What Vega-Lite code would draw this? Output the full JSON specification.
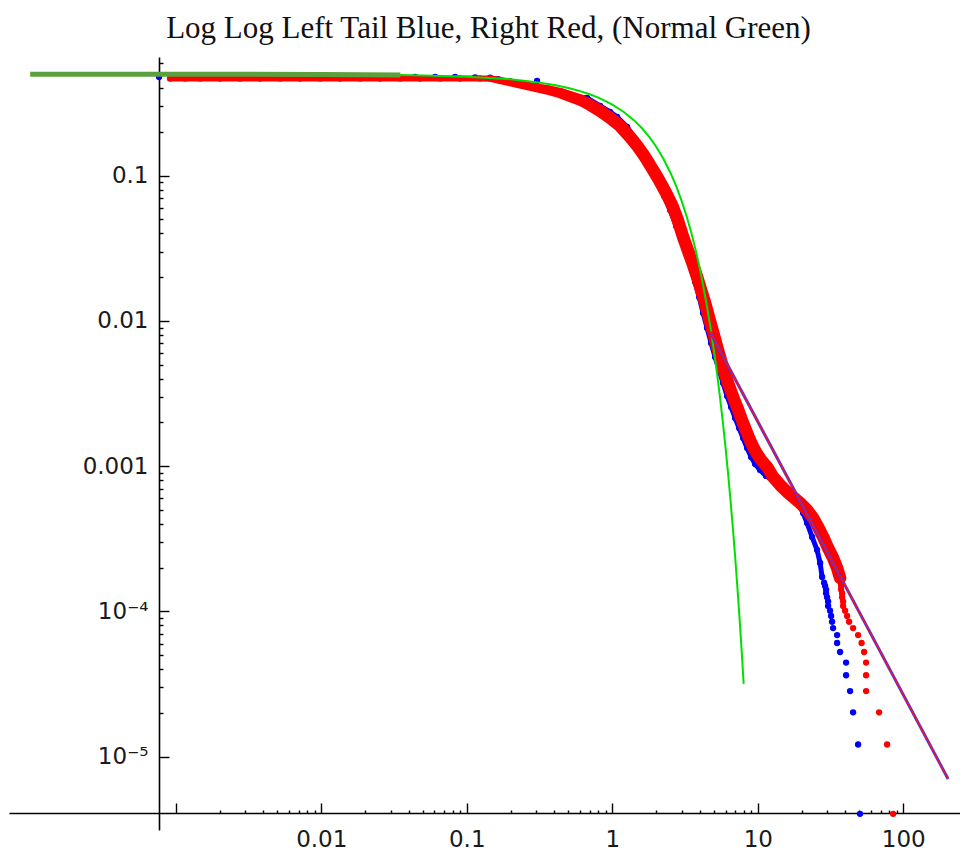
{
  "$schema": "https://vega.github.io/schema/vega-lite/v6.json",
  "width": 951,
  "height": 773,
  "autosize": {"type": "none"},
  "padding": {"left": 9, "top": 57, "right": 0, "bottom": 22},
  "background": "white",
  "title": {
    "text": "Log Log Left Tail Blue, Right Red, (Normal Green)",
    "font": "Liberation Serif",
    "fontSize": 31,
    "fontWeight": "normal",
    "color": "#111111",
    "anchor": "middle",
    "baseline": "alphabetic",
    "offset": 20,
    "dx": 4,
    "dy": 32
  },
  "config": {
    "view": {"stroke": null},
    "axis": {
      "grid": false,
      "title": null,
      "domainColor": "#000000",
      "domainWidth": 1.6,
      "tickColor": "#000000",
      "tickWidth": 1.4,
      "labelFont": "DejaVu Sans",
      "labelFontSize": 23,
      "labelColor": "#1a1a1a",
      "labelOverlap": false,
      "labelFlush": false,
      "labelBound": false
    }
  },
  "datasets": {
    "red": [
      {"x": 0.000914, "y": 0.4668}, {"x": 0.001159, "y": 0.4668}, {"x": 0.001469, "y": 0.4668}, {"x": 0.002016, "y": 0.4668},
      {"x": 0.002766, "y": 0.4668}, {"x": 0.003797, "y": 0.4668}, {"x": 0.00521, "y": 0.4668}, {"x": 0.007151, "y": 0.4668},
      {"x": 0.009813, "y": 0.4668}, {"x": 0.01347, "y": 0.4668}, {"x": 0.01848, "y": 0.4668}, {"x": 0.02536, "y": 0.4668},
      {"x": 0.0348, "y": 0.4668}, {"x": 0.04775, "y": 0.4668}, {"x": 0.06555, "y": 0.4668}, {"x": 0.08995, "y": 0.4668},
      {"x": 0.1234, "y": 0.4668}, {"x": 0.1446, "y": 0.4668}, {"x": 0.1694, "y": 0.4522}, {"x": 0.1985, "y": 0.4382},
      {"x": 0.2325, "y": 0.4245}, {"x": 0.2723, "y": 0.4112}, {"x": 0.319, "y": 0.3983}, {"x": 0.3736, "y": 0.3859},
      {"x": 0.4377, "y": 0.371}, {"x": 0.5129, "y": 0.3509}, {"x": 0.6008, "y": 0.3321}, {"x": 0.7037, "y": 0.3067},
      {"x": 0.8245, "y": 0.2789}, {"x": 0.9658, "y": 0.2495}, {"x": 1.131, "y": 0.2199}, {"x": 1.325, "y": 0.1846},
      {"x": 1.504, "y": 0.1576}, {"x": 1.68, "y": 0.1345}, {"x": 1.907, "y": 0.1094}, {"x": 2.131, "y": 0.0905},
      {"x": 2.343, "y": 0.07601}, {"x": 2.576, "y": 0.06285}, {"x": 2.789, "y": 0.05115}, {"x": 3.066, "y": 0.03784},
      {"x": 3.319, "y": 0.03031}, {"x": 3.593, "y": 0.02428}, {"x": 3.827, "y": 0.02008}, {"x": 4.077, "y": 0.01633},
      {"x": 4.343, "y": 0.01329}, {"x": 4.627, "y": 0.01048}, {"x": 4.929, "y": 0.008393}, {"x": 5.252, "y": 0.006617},
      {"x": 5.594, "y": 0.005301}, {"x": 5.96, "y": 0.004312}, {"x": 6.35, "y": 0.003566}, {"x": 6.765, "y": 0.002995},
      {"x": 7.207, "y": 0.002556}, {"x": 7.678, "y": 0.002147}, {"x": 8.18, "y": 0.001832}, {"x": 8.714, "y": 0.001563},
      {"x": 9.284, "y": 0.001356}, {"x": 9.89, "y": 0.001213}, {"x": 10.54, "y": 0.001103}, {"x": 11.59, "y": 0.0009874},
      {"x": 12.74, "y": 0.0008424}, {"x": 14.23, "y": 0.0007423}, {"x": 15.9, "y": 0.0006645}, {"x": 17.48, "y": 0.0006138},
      {"x": 19.53, "y": 0.0005579}, {"x": 21.82, "y": 0.0004994}, {"x": 23.99, "y": 0.0004399}, {"x": 25.97, "y": 0.0003815},
      {"x": 28.11, "y": 0.0003256}, {"x": 30.42, "y": 0.0002734}, {"x": 32.93, "y": 0.0002333}, {"x": 35.08, "y": 0.0001991},
      {"x": 36.78, "y": 0.0001699}, {"x": 37.37, "y": 0.000157},
      {"x": 37.37, "y": 0.0001495}, {"x": 37.37, "y": 0.0001414}, {"x": 37.97, "y": 0.0001333}, {"x": 37.97, "y": 0.0001252},
      {"x": 38.58, "y": 0.0001172}, {"x": 38.58, "y": 0.0001091}, {"x": 39.81, "y": 0.000101}, {"x": 41.09, "y": 0.00009292},
      {"x": 42.42, "y": 0.00008484}, {"x": 45.19, "y": 0.00007676}, {"x": 48.91, "y": 0.00006868}, {"x": 51.7, "y": 0.0000606},
      {"x": 53.78, "y": 0.00005252}, {"x": 55.51, "y": 0.00004444}, {"x": 55.51, "y": 0.00003636}, {"x": 55.51, "y": 0.00002828},
      {"x": 68.19, "y": 0.0000202}, {"x": 77.41, "y": 0.00001212}, {"x": 85.11, "y": 0.00000404}
    ],
    "blue": [
      {"x": 0.000768, "y": 0.478}, {"x": 0.000989, "y": 0.478}, {"x": 0.001357, "y": 0.478}, {"x": 0.001863, "y": 0.478},
      {"x": 0.002556, "y": 0.478}, {"x": 0.003508, "y": 0.478}, {"x": 0.004815, "y": 0.478}, {"x": 0.006503, "y": 0.478},
      {"x": 0.009066, "y": 0.478}, {"x": 0.01244, "y": 0.478}, {"x": 0.01707, "y": 0.478}, {"x": 0.02343, "y": 0.478},
      {"x": 0.03215, "y": 0.478}, {"x": 0.04412, "y": 0.478}, {"x": 0.06056, "y": 0.478}, {"x": 0.0831, "y": 0.478},
      {"x": 0.114, "y": 0.475}, {"x": 0.1446, "y": 0.472}, {"x": 0.1641, "y": 0.462}, {"x": 0.1985, "y": 0.446},
      {"x": 0.2399, "y": 0.431}, {"x": 0.3042, "y": 0.4487}, {"x": 0.3736, "y": 0.392}, {"x": 0.4519, "y": 0.375},
      {"x": 0.555, "y": 0.35}, {"x": 0.671, "y": 0.3426}, {"x": 0.8245, "y": 0.3019}, {"x": 0.9658, "y": 0.2746},
      {"x": 1.079, "y": 0.2535}, {"x": 1.264, "y": 0.2164}, {"x": 1.457, "y": 0.1761}, {"x": 1.628, "y": 0.1388},
      {"x": 1.819, "y": 0.1094}, {"x": 2.032, "y": 0.0905}, {"x": 2.27, "y": 0.07247}, {"x": 2.496, "y": 0.05806},
      {"x": 2.745, "y": 0.04505}, {"x": 2.971, "y": 0.03608}, {"x": 3.216, "y": 0.0289}, {"x": 3.48, "y": 0.02315},
      {"x": 3.708, "y": 0.01854}, {"x": 3.95, "y": 0.01462}, {"x": 4.208, "y": 0.01134}, {"x": 4.482, "y": 0.008944},
      {"x": 4.775, "y": 0.00705}, {"x": 5.088, "y": 0.005646}, {"x": 5.42, "y": 0.004596}, {"x": 5.774, "y": 0.003739},
      {"x": 6.152, "y": 0.003043}, {"x": 6.554, "y": 0.002556}, {"x": 6.982, "y": 0.002147}, {"x": 7.438, "y": 0.001832},
      {"x": 7.925, "y": 0.001563}, {"x": 8.443, "y": 0.001335}, {"x": 8.995, "y": 0.001157}, {"x": 9.581, "y": 0.001035},
      {"x": 10.37, "y": 0.0009415}, {"x": 11.4, "y": 0.000856}, {"x": 12.74, "y": 0.0007909}, {"x": 14.23, "y": 0.0007423},
      {"x": 15.9, "y": 0.0006966}, {"x": 17.48, "y": 0.000654}, {"x": 18.92, "y": 0.0005579}, {"x": 20.48, "y": 0.0004761},
      {"x": 21.82, "y": 0.0004063}, {"x": 23.61, "y": 0.0003256}, {"x": 25.56, "y": 0.0002649}, {"x": 26.8, "y": 0.0002157},
      {"x": 27.67, "y": 0.0001726},
      {"x": 28.56, "y": 0.0001576}, {"x": 29.01, "y": 0.0001495}, {"x": 29.47, "y": 0.0001414}, {"x": 29.47, "y": 0.0001333},
      {"x": 29.94, "y": 0.0001252}, {"x": 30.42, "y": 0.0001172}, {"x": 30.42, "y": 0.0001091}, {"x": 31.39, "y": 0.000101},
      {"x": 31.9, "y": 0.00009292}, {"x": 32.41, "y": 0.00008484}, {"x": 32.93, "y": 0.00007676}, {"x": 35.08, "y": 0.00006868},
      {"x": 35.08, "y": 0.0000606}, {"x": 36.78, "y": 0.00005252}, {"x": 40.45, "y": 0.00004444}, {"x": 40.45, "y": 0.00003636},
      {"x": 43.09, "y": 0.00002828}, {"x": 45.19, "y": 0.0000202}, {"x": 48.91, "y": 0.00001212}, {"x": 50.4, "y": 0.00000404}
    ],
    "normal": [
      {"x": 0.0001, "y": 0.49998}, {"x": 0.001, "y": 0.4998}, {"x": 0.01, "y": 0.498}, {"x": 0.035, "y": 0.493},
      {"x": 0.05, "y": 0.49}, {"x": 0.1, "y": 0.4801}, {"x": 0.2, "y": 0.4602}, {"x": 0.3, "y": 0.4404},
      {"x": 0.4, "y": 0.4207}, {"x": 0.5, "y": 0.4013}, {"x": 0.6, "y": 0.3821}, {"x": 0.7, "y": 0.3632},
      {"x": 0.8, "y": 0.3446}, {"x": 0.9, "y": 0.3264}, {"x": 1.0, "y": 0.3085}, {"x": 1.2, "y": 0.2743},
      {"x": 1.4, "y": 0.242}, {"x": 1.6, "y": 0.2119}, {"x": 1.8, "y": 0.1841}, {"x": 2.0, "y": 0.1587},
      {"x": 2.25, "y": 0.1303}, {"x": 2.5, "y": 0.1056}, {"x": 2.75, "y": 0.0846}, {"x": 3.0, "y": 0.0668},
      {"x": 3.25, "y": 0.0521}, {"x": 3.5, "y": 0.0401}, {"x": 3.75, "y": 0.0304}, {"x": 4.0, "y": 0.02275},
      {"x": 4.25, "y": 0.01679}, {"x": 4.5, "y": 0.01222}, {"x": 4.75, "y": 0.00877}, {"x": 5.0, "y": 0.00621},
      {"x": 5.25, "y": 0.00433}, {"x": 5.5, "y": 0.00298}, {"x": 5.75, "y": 0.00202}, {"x": 6.0, "y": 0.00135},
      {"x": 6.25, "y": 0.000889}, {"x": 6.5, "y": 0.000577}, {"x": 6.75, "y": 0.000369}, {"x": 7.0, "y": 0.000233},
      {"x": 7.25, "y": 0.000144}, {"x": 7.5, "y": 0.0000884}, {"x": 7.75, "y": 0.0000533}, {"x": 8.0, "y": 0.0000317}
    ],
    "fit": [
      {"x": 4.7, "y": 0.008393}, {"x": 203.2, "y": 0.00000702}
    ]
  },
  "layer": [
    {
      "data": {"name": "blue"},
      "transform": [{"filter": "datum.y > 0.00016 && datum.x > 0.5"}],
      "mark": {"type": "line", "color": "#0000ff", "strokeWidth": 5},
      "encoding": {
        "x": {
          "field": "x", "type": "quantitative",
          "scale": {"type": "log", "domain": [0.00007147, 245.3], "nice": false},
          "axis": {
            "orient": "bottom", "offset": -17,
            "values": [0.001, 0.01, 0.1, 1, 10, 100],
            "tickSize": -10, "labelPadding": 25,
            "labelExpr": "datum.value < 0.005 ? '' : format(datum.value, '~g')"
          }
        },
        "y": {
          "field": "y", "type": "quantitative",
          "scale": {"type": "log", "domain": [0.000003126, 0.656], "nice": false},
          "axis": {
            "orient": "left", "offset": -150,
            "values": [0.00001, 0.0001, 0.001, 0.01, 0.1],
            "tickSize": -10, "labelPadding": 21,
            "labelExpr": "datum.value >= 0.0009 ? format(datum.value, '~g') : (datum.value > 0.00005 ? '10⁻⁴' : '10⁻⁵')"
          }
        }
      }
    },
    {
      "data": {"name": "blue"},
      "mark": {"type": "circle", "color": "#0000ff", "size": 40, "opacity": 1},
      "encoding": {
        "x": {
          "field": "x", "type": "quantitative",
          "scale": {"type": "log", "domain": [0.00007147, 245.3], "nice": false},
          "axis": {
            "orient": "bottom", "offset": -17, "domain": false, "labels": false, "tickSize": -3,
            "values": [0.002, 0.003, 0.004, 0.005, 0.006, 0.007, 0.008, 0.009, 0.02, 0.03, 0.04, 0.05, 0.06, 0.07, 0.08, 0.09, 0.2, 0.3, 0.4, 0.5, 0.6, 0.7, 0.8, 0.9, 2, 3, 4, 5, 6, 7, 8, 9, 20, 30, 40, 50, 60, 70, 80, 90]
          }
        },
        "y": {
          "field": "y", "type": "quantitative",
          "scale": {"type": "log", "domain": [0.000003126, 0.656], "nice": false},
          "axis": {
            "orient": "left", "offset": -150, "domain": false, "labels": false, "tickSize": -4,
            "values": [0.00002, 0.00003, 0.00004, 0.00005, 0.00006, 0.00007, 0.00008, 0.00009, 0.0002, 0.0003, 0.0004, 0.0005, 0.0006, 0.0007, 0.0008, 0.0009, 0.002, 0.003, 0.004, 0.005, 0.006, 0.007, 0.008, 0.009, 0.02, 0.03, 0.04, 0.05, 0.06, 0.07, 0.08, 0.09, 0.2, 0.3, 0.4, 0.5, 0.6]
          }
        }
      }
    },
    {
      "data": {"name": "red"},
      "transform": [{"filter": "datum.y > 0.00016"}],
      "mark": {"type": "trail", "color": "#ff0000"},
      "encoding": {
        "x": {"field": "x", "type": "quantitative", "scale": {"type": "log", "domain": [0.00007147, 245.3], "nice": false}, "axis": null},
        "y": {"field": "y", "type": "quantitative", "scale": {"type": "log", "domain": [0.000003126, 0.656], "nice": false}, "axis": null},
        "size": {"field": "x", "type": "quantitative", "scale": {"type": "log", "domain": [0.12, 0.8], "range": [6, 12.5], "clamp": true}, "legend": null}
      }
    },
    {
      "data": {"name": "red"},
      "mark": {"type": "circle", "color": "#ff0000", "size": 40, "opacity": 1},
      "encoding": {
        "x": {"field": "x", "type": "quantitative", "scale": {"type": "log", "domain": [0.00007147, 245.3], "nice": false}, "axis": null},
        "y": {"field": "y", "type": "quantitative", "scale": {"type": "log", "domain": [0.000003126, 0.656], "nice": false}, "axis": null}
      }
    },
    {
      "data": {"name": "normal"},
      "mark": {"type": "line", "color": "#00e000", "strokeWidth": 2},
      "encoding": {
        "x": {"field": "x", "type": "quantitative", "scale": {"type": "log", "domain": [0.00007147, 245.3], "nice": false}, "axis": null},
        "y": {"field": "y", "type": "quantitative", "scale": {"type": "log", "domain": [0.000003126, 0.656], "nice": false}, "axis": null}
      }
    },
    {
      "data": {"name": "normal"},
      "transform": [{"filter": "datum.x <= 0.035"}],
      "mark": {"type": "line", "color": "#5aa03c", "strokeWidth": 5},
      "encoding": {
        "x": {"field": "x", "type": "quantitative", "scale": {"type": "log", "domain": [0.00007147, 245.3], "nice": false}, "axis": null},
        "y": {"field": "y", "type": "quantitative", "scale": {"type": "log", "domain": [0.000003126, 0.656], "nice": false}, "axis": null}
      }
    },
    {
      "data": {"name": "fit"},
      "mark": {"type": "line", "color": "#3a3aff", "strokeWidth": 3},
      "encoding": {
        "x": {"field": "x", "type": "quantitative", "scale": {"type": "log", "domain": [0.00007147, 245.3], "nice": false}, "axis": null},
        "y": {"field": "y", "type": "quantitative", "scale": {"type": "log", "domain": [0.000003126, 0.656], "nice": false}, "axis": null}
      }
    },
    {
      "data": {"name": "fit"},
      "mark": {"type": "line", "color": "#ff1010", "strokeWidth": 1.4},
      "encoding": {
        "x": {"field": "x", "type": "quantitative", "scale": {"type": "log", "domain": [0.00007147, 245.3], "nice": false}, "axis": null},
        "y": {"field": "y", "type": "quantitative", "scale": {"type": "log", "domain": [0.000003126, 0.656], "nice": false}, "axis": null}
      }
    }
  ],
  "resolve": {"axis": {"x": "independent", "y": "independent"}}
}
